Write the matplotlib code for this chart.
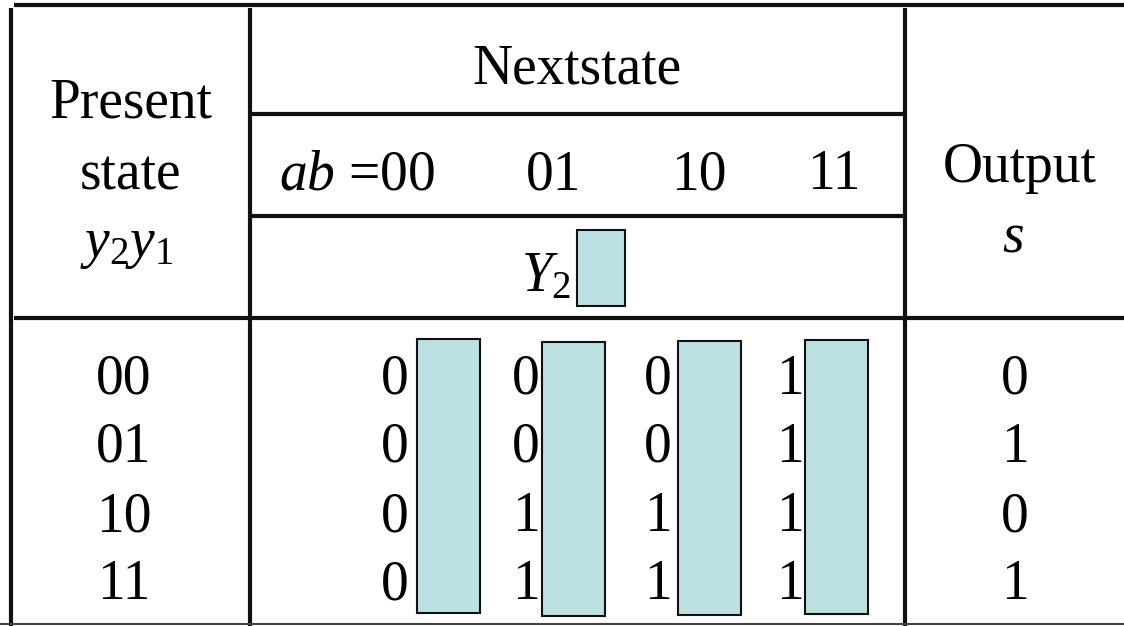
import matplotlib.pyplot as plt
from matplotlib.patches import Rectangle

# Data
present_states = ["00", "01", "10", "11"]
input_labels = ["$ab$ =00", "01", "10", "11"]
# next state Y2, one row per present state, one column per input ab
next_state_y2 = [
    [0, 0, 0, 1],
    [0, 0, 0, 1],
    [0, 1, 1, 1],
    [0, 1, 1, 1],
]
output_s = [0, 1, 0, 1]

# Style
plt.rcParams["font.family"] = ["Liberation Serif", "DejaVu Serif"]
plt.rcParams["mathtext.fontset"] = "custom"
plt.rcParams["mathtext.rm"] = "Liberation Serif"
plt.rcParams["mathtext.it"] = "Liberation Serif:italic"
fs = 40
line_color = "#111111"
box_color = "#BDE0E3"
lw = 3

# Layout (pixel coordinates, y down)
W, H = 1124, 626
x_left, x_mid, x_right = 11, 250, 905
y_top, y_h1, y_h2, y_h3, y_bot = 5, 114, 216, 318, 624
row_base = [394, 462, 531, 599]
col_digit_x = [395, 526, 658, 790]
box_x = [417, 542, 678, 805]
box_y = [339, 342, 341, 340]
box_w, box_h = 63, 274
input_x = [279, 554, 699, 834]

fig = plt.figure(figsize=(W / 100, H / 100), dpi=100)
ax = fig.add_axes([0, 0, 1, 1])
ax.set_xlim(0, W)
ax.set_ylim(H, 0)
ax.axis("off")

# grid lines
ax.plot([14, W], [y_top, y_top], color=line_color, lw=lw, solid_capstyle="butt")
ax.plot([x_left, x_left], [8, H], color=line_color, lw=lw, solid_capstyle="butt")
ax.plot([x_mid, x_mid], [8, H], color=line_color, lw=lw, solid_capstyle="butt")
ax.plot([x_right, x_right], [8, H], color=line_color, lw=lw, solid_capstyle="butt")
ax.plot([x_mid, x_right], [y_h1, y_h1], color=line_color, lw=lw, solid_capstyle="butt")
ax.plot([x_mid, x_right], [y_h2, y_h2], color=line_color, lw=lw, solid_capstyle="butt")
ax.plot([14, W], [y_h3, y_h3], color=line_color, lw=lw, solid_capstyle="butt")
ax.plot([0, W], [y_bot, y_bot], color="#444444", lw=1.5, solid_capstyle="butt")

# header texts
ax.text(130.5, 117, "Present", fontsize=fs, ha="center", va="baseline")
ax.text(131, 189, "state", fontsize=fs, ha="center", va="baseline")
ax.text(127, 257, "$y_2y_1$", fontsize=fs, ha="center", va="baseline")
ax.text(577, 84, "Nextstate", fontsize=fs, ha="center", va="baseline")
for i, lab in enumerate(input_labels):
    ax.text(input_x[i], 189, lab, fontsize=fs, ha="left" if i == 0 else "center",
            va="baseline")
ax.text(521, 291, "$Y_2$", fontsize=fs, ha="left", va="baseline")
ax.add_patch(Rectangle((577, 230), 48, 76, facecolor=box_color,
                       edgecolor=line_color, lw=1.5))
ax.text(1020, 182, "Output", fontsize=fs, ha="center", va="baseline")
ax.text(1013, 252, "$s$", fontsize=fs, ha="center", va="baseline")

# body
for r, state in enumerate(present_states):
    ax.text(124, row_base[r], state, fontsize=fs, ha="center", va="baseline")
    for c in range(len(input_labels)):
        ax.text(col_digit_x[c], row_base[r], str(next_state_y2[r][c]),
                fontsize=fs, ha="center", va="baseline")
    ax.text(1015, row_base[r], str(output_s[r]), fontsize=fs, ha="center",
            va="baseline")

for c in range(len(box_x)):
    ax.add_patch(Rectangle((box_x[c], box_y[c]), box_w, box_h,
                           facecolor=box_color, edgecolor=line_color, lw=1.5))

fig.savefig("out.png", dpi=100)
